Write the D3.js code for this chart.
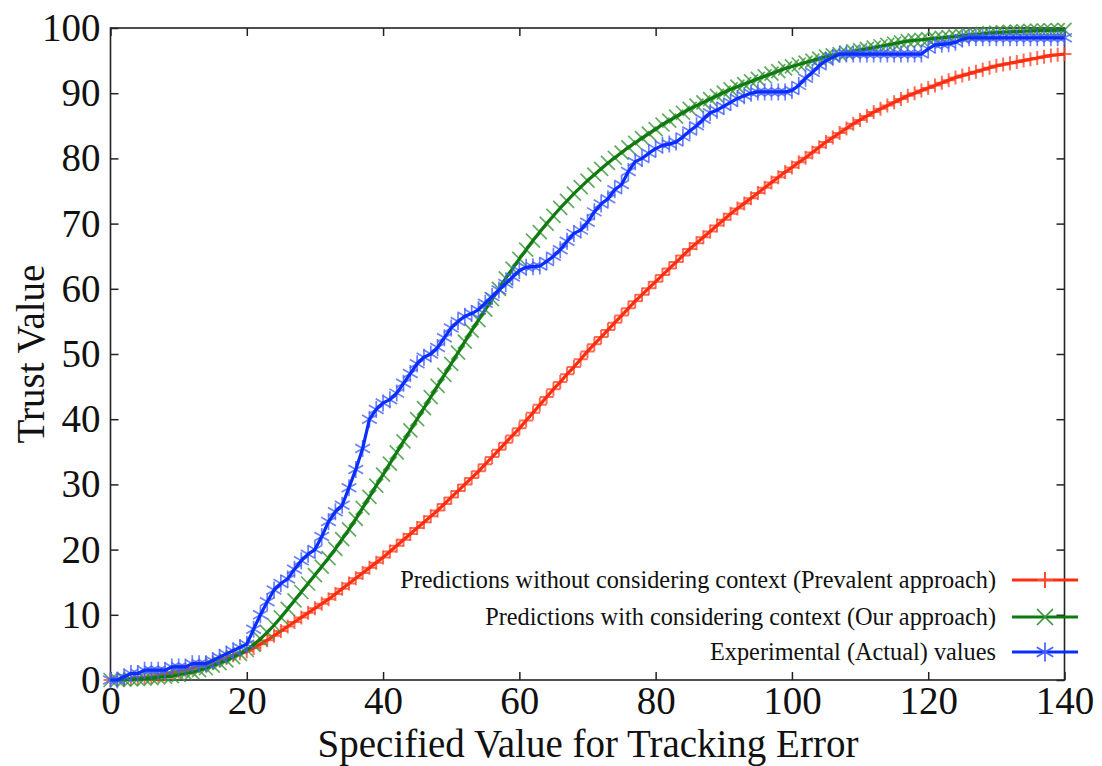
<!DOCTYPE html>
<html>
<head>
<meta charset="utf-8">
<script src="https://cdn.jsdelivr.net/npm/d3@7"></script>
<style>
  html, body { margin: 0; padding: 0; background: #fff; }
  svg { display: block; }
  text { font-family: "Liberation Serif", "DejaVu Serif", serif; fill: #111; }
</style>
</head>
<body>
<svg id="chart" width="1102" height="766"></svg>
<script>
// Specified tracking error, 0..140 in steps of 1
const trackingError = d3.range(0, 141);

// Trust predicted without context (prevalent approach)
const prevalentValues = [
  0, 0.05, 0.1, 0.2, 0.3, 0.4, 0.5, 0.7, 0.9, 1.1,
  1.3, 1.5, 1.8, 2.1, 2.4, 2.7, 3.0, 3.4, 3.8, 4.1,
  4.4, 4.9, 5.5, 6.1, 6.8, 7.5, 8.2, 8.9, 9.6, 10.3,
  11.0, 11.7, 12.4, 13.2, 14.0, 14.8, 15.6, 16.4, 17.2, 18.0,
  18.8, 19.7, 20.6, 21.5, 22.4, 23.3, 24.2, 25.1, 26.0, 27.0,
  28.0, 29.0, 30.0, 31.0, 32.0, 33.1, 34.2, 35.3, 36.4, 37.5,
  38.6, 39.8, 41.0, 42.2, 43.4, 44.6, 45.7, 46.9, 48.0, 49.2,
  50.4, 51.5, 52.6, 53.7, 54.8, 55.9, 57.0, 58.1, 59.1, 60.1,
  61.1, 62.1, 63.1, 64.1, 65.1, 66.1, 67.0, 67.9, 68.8, 69.7,
  70.6, 71.5, 72.3, 73.1, 73.9, 74.7, 75.5, 76.3, 77.1, 77.9,
  78.6, 79.4, 80.1, 80.9, 81.7, 82.5, 83.2, 83.9, 84.6, 85.3,
  85.9, 86.5, 87.1, 87.6, 88.1, 88.6, 89.1, 89.6, 90.0, 90.4,
  90.8, 91.2, 91.6, 92.0, 92.4, 92.7, 93.0, 93.3, 93.6, 93.9,
  94.2, 94.4, 94.6, 94.8, 95.0, 95.2, 95.4, 95.6, 95.8, 95.9,
  96.0
];

// Trust predicted with context (our approach)
const contextValues = [
  0, 0, 0.05, 0.1, 0.15, 0.2, 0.3, 0.4, 0.5, 0.6,
  0.8, 1.0, 1.2, 1.5, 1.8, 2.2, 2.6, 3.0, 3.5, 4.0,
  4.6, 5.4, 6.3, 7.3, 8.4, 9.6, 10.9, 12.2, 13.5, 14.8,
  16.1, 17.4, 18.7, 20.1, 21.6, 23.1, 24.7, 26.4, 28.1, 29.8,
  31.5, 33.2, 34.9, 36.6, 38.3, 40.0, 41.7, 43.4, 45.1, 46.8,
  48.5, 50.2, 51.9, 53.6, 55.2, 56.8, 58.4, 60.0, 61.6, 63.1,
  64.6, 66.0, 67.4, 68.7, 70.0, 71.2, 72.4, 73.5, 74.6, 75.6,
  76.6, 77.5, 78.4, 79.3, 80.1, 80.9, 81.7, 82.4, 83.1, 83.8,
  84.5, 85.2, 85.8, 86.4, 87.0, 87.6, 88.1, 88.6, 89.1, 89.6,
  90.1, 90.6, 91.0, 91.4, 91.8, 92.2, 92.6, 93.0, 93.4, 93.8,
  94.1, 94.4, 94.7, 95.0, 95.3, 95.6, 95.8, 96.0, 96.2, 96.4,
  96.6, 96.8, 97.0, 97.2, 97.4, 97.6, 97.8, 98.0, 98.1, 98.2,
  98.3, 98.4, 98.5, 98.6, 98.7, 98.8, 98.9, 99.0, 99.1, 99.2,
  99.3, 99.35, 99.4, 99.45, 99.5, 99.55, 99.6, 99.62, 99.65, 99.68,
  99.7
];

// Experimentally measured trust
const actualValues = [
  0, 0, 0.5, 1.0, 1.0, 1.5, 1.5, 1.5, 1.5, 2.0,
  2.0, 2.0, 2.5, 2.5, 2.5, 3.0, 3.5, 4.0, 4.5, 5.0,
  5.5, 7.8, 10.0, 12.0, 13.8, 14.8, 15.5, 17.0, 18.3, 19.3,
  20.0, 22.0, 24.3, 25.8, 26.8, 29.5, 32.3, 35.5, 40.0, 41.5,
  42.5, 43.0, 44.0, 45.5, 47.0, 48.5, 49.5, 50.0, 51.0, 52.5,
  54.0, 55.0, 55.8, 56.2, 56.8, 57.8, 58.8, 59.8, 60.8, 61.8,
  62.8, 63.3, 63.4, 63.5, 64.2, 65.0, 66.0, 67.3, 68.5, 69.0,
  70.2, 71.8, 73.0, 73.8, 75.2, 76.0, 78.0, 79.5, 80.0, 80.8,
  81.5, 82.0, 82.2, 82.5, 83.3, 84.2, 85.0, 86.0, 87.0, 87.4,
  88.0, 88.6, 89.2, 89.6, 90.0, 90.2, 90.2, 90.2, 90.2, 90.2,
  90.4, 91.2, 92.3, 93.2, 94.2, 95.0, 95.5, 96.0, 96.0, 96.0,
  96.0, 96.0, 96.0, 96.0, 96.0, 96.0, 96.0, 96.0, 96.0, 96.0,
  96.8, 97.4, 97.5, 97.6, 97.8, 98.3, 98.5, 98.5, 98.5, 98.5,
  98.5, 98.5, 98.5, 98.5, 98.5, 98.5, 98.5, 98.5, 98.5, 98.5,
  98.5
];

const xTicks = [0, 20, 40, 60, 80, 100, 120, 140];
const yTicks = [0, 10, 20, 30, 40, 50, 60, 70, 80, 90, 100];

const seriesNames = [
  "Predictions without considering context (Prevalent approach)",
  "Predictions with considering context (Our approach)",
  "Experimental (Actual) values"
];

const series = [
  { name: seriesNames[0], values: prevalentValues, line: "#ff2d10", mark: "#ff4a2e", shape: "plus",  mw: 2.0 },
  { name: seriesNames[1], values: contextValues,   line: "#0f7a10", mark: "#3a963a", shape: "cross", mw: 1.7 },
  { name: seriesNames[2], values: actualValues,    line: "#0a2eff", mark: "#4560ff", shape: "star",  mw: 1.7 }
];

const svg = d3.select("#chart");
const x = d3.scaleLinear().domain([0, 140]).range([110.5, 1064.5]);
const y = d3.scaleLinear().domain([0, 100]).range([680, 28]);

// Marker path generators, centred on the origin
function markerPath(shape, r) {
  if (shape === "plus") return `M${-r},0H${r}M0,${-r}V${r}`;
  if (shape === "cross") return `M${-r},${-r}L${r},${r}M${-r},${r}L${r},${-r}`;
  const d = r * Math.cos(Math.PI / 6), h = r * 0.5;
  return `M0,${-r}V${r}M${-d},${-h}L${d},${h}M${-d},${h}L${d},${-h}`;
}
const markerSize = { plus: 7, cross: 7, star: 8.5 };

// Frame
const g = svg.append("g");
g.append("rect")
  .attr("x", x(0)).attr("y", y(100))
  .attr("width", x(140) - x(0)).attr("height", y(0) - y(100))
  .attr("fill", "none").attr("stroke", "#222").attr("stroke-width", 1.6);

// Axes with inward ticks on all four sides
const tickLen = 8;
const tickFont = 39;
g.append("g").attr("transform", `translate(0,${y(0)})`)
  .call(d3.axisBottom(x).tickValues(xTicks).tickSize(-tickLen).tickPadding(6).tickFormat(d3.format("d")))
  .call(a => a.select(".domain").remove())
  .call(a => a.selectAll("line").attr("stroke", "#222").attr("stroke-width", 1.5))
  .call(a => a.selectAll("text").attr("font-size", tickFont).attr("font-family", "Liberation Serif").attr("fill", "#111"));
g.append("g").attr("transform", `translate(0,${y(100)})`)
  .call(d3.axisTop(x).tickValues(xTicks).tickSize(-tickLen).tickFormat(""))
  .call(a => a.select(".domain").remove())
  .call(a => a.selectAll("line").attr("stroke", "#222").attr("stroke-width", 1.5));
g.append("g").attr("transform", `translate(${x(0)},0)`)
  .call(d3.axisLeft(y).tickValues(yTicks).tickSize(-tickLen).tickPadding(10).tickFormat(d3.format("d")))
  .call(a => a.select(".domain").remove())
  .call(a => a.selectAll("line").attr("stroke", "#222").attr("stroke-width", 1.5))
  .call(a => a.selectAll("text").attr("font-size", tickFont).attr("font-family", "Liberation Serif").attr("fill", "#111"));
g.append("g").attr("transform", `translate(${x(140)},0)`)
  .call(d3.axisRight(y).tickValues(yTicks).tickSize(-tickLen).tickFormat(""))
  .call(a => a.select(".domain").remove())
  .call(a => a.selectAll("line").attr("stroke", "#222").attr("stroke-width", 1.5));

// Axis titles
svg.append("text")
  .attr("x", 588).attr("y", 757)
  .attr("text-anchor", "middle").attr("font-size", 39)
  .text("Specified Value for Tracking Error");
svg.append("text")
  .attr("transform", `translate(44,354) rotate(-90)`)
  .attr("text-anchor", "middle").attr("font-size", 39)
  .text("Trust Value");

// Series: markers first, then the solid line on top
const line = d3.line().x((d, i) => x(trackingError[i])).y(d => y(d));
series.forEach(s => {
  const layer = svg.append("g");
  layer.append("g").selectAll("path")
    .data(s.values)
    .join("path")
    .attr("transform", (d, i) => `translate(${x(trackingError[i])},${y(d)})`)
    .attr("d", markerPath(s.shape, markerSize[s.shape]))
    .attr("stroke", s.mark).attr("stroke-width", s.mw).attr("stroke-opacity", 0.8)
    .attr("fill", "none");
  layer.append("path")
    .datum(s.values)
    .attr("d", line)
    .attr("fill", "none").attr("stroke", s.line).attr("stroke-width", 3.2)
    .attr("stroke-linejoin", "round");
});

// Legend, lower right
const legend = svg.append("g");
const legendRows = [580, 617, 652];
series.forEach((s, i) => {
  const row = legend.append("g").attr("transform", `translate(0,${legendRows[i]})`);
  row.append("text")
    .attr("x", 996).attr("y", 8).attr("text-anchor", "end").attr("font-size", 24.3)
    .text(s.name);
  row.append("line")
    .attr("x1", 1012).attr("x2", 1078).attr("y1", 0).attr("y2", 0)
    .attr("stroke", s.line).attr("stroke-width", 3.2);
  row.append("path")
    .attr("transform", "translate(1045,0)")
    .attr("d", markerPath(s.shape, markerSize[s.shape] + 1))
    .attr("stroke", s.mark).attr("stroke-width", s.mw).attr("fill", "none");
});
</script>
</body>
</html>
